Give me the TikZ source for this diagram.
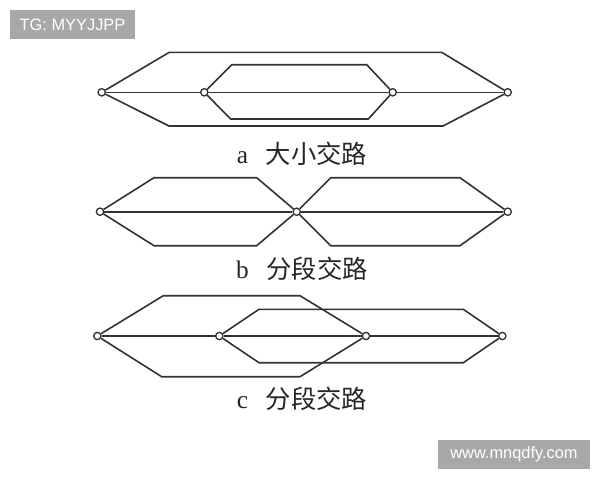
\documentclass[tikz,border=0pt]{standalone}
\usepackage{fontspec}
\setmainfont{Liberation Serif}
\newfontfamily\cjk{Noto Sans CJK SC}
\newfontfamily\wmfont{Liberation Sans}
\begin{document}
\begin{tikzpicture}[x=0.75pt,y=-0.75pt,
  ln/.style={draw=black!80,line width=1.2pt,line join=miter},
  stn/.style={circle,draw=black!80,fill=white,line width=1pt,inner sep=0pt,minimum size=5.5pt},
  lbl/.style={anchor=base,inner sep=0pt,text=black!85,font=\fontsize{19}{22}\selectfont},
  wm/.style={fill=black!34,text=white,inner sep=0pt,font=\wmfont\fontsize{12.3}{14}\selectfont}]
\useasboundingbox (0,0) rectangle (600,480);
\fill[white] (0,0) rectangle (600,480);
% watermarks
\node[wm,minimum width=125*0.75pt,minimum height=29*0.75pt] (wm1) at (72.5,24.5) {TG: MYYJJPP};
\node[wm,minimum width=152*0.75pt,minimum height=29*0.75pt] (wm2) at (514,454.5) {www.mnqdfy.com};
% ---- a
\coordinate (ao1) at (169.3,52.3); \coordinate (ao2) at (441.7,52.3);
\coordinate (ao3) at (169,126); \coordinate (ao4) at (443,126);
\coordinate (ai1) at (231.7,64.7); \coordinate (ai2) at (366.7,64.7);
\coordinate (ai3) at (230.7,119); \coordinate (ai4) at (368.3,119);
\node[stn] (a1) at (101.7,92.3) {};
\node[stn] (a2) at (204.3,92.3) {};
\node[stn] (a3) at (392.7,92.3) {};
\node[stn] (a4) at (507.7,92.3) {};
\draw[ln] (a1) -- (ao1) -- (ao2) -- (a4);
\draw[ln] (a1) -- (ao3) -- (ao4) -- (a4);
\draw[ln] (a2) -- (ai1) -- (ai2) -- (a3);
\draw[ln] (a2) -- (ai3) -- (ai4) -- (a3);
\draw[ln] (a1) -- (a2) -- (a3) -- (a4);
\node[lbl] (la) at (302,163.5) {a\hspace{0.7em}{\cjk 大小交路}};
% ---- b
\coordinate (bl1) at (154,177.7); \coordinate (bl2) at (256.7,177.7);
\coordinate (bl3) at (154,245.7); \coordinate (bl4) at (256.7,245.7);
\coordinate (br1) at (330.7,177.7); \coordinate (br2) at (460,177.7);
\coordinate (br3) at (330.7,245.7); \coordinate (br4) at (460,245.7);
\node[stn] (b1) at (100,211.7) {};
\node[stn] (b2) at (296.7,211.7) {};
\node[stn] (b3) at (507.7,211.7) {};
\draw[ln] (b1) -- (bl1) -- (bl2) -- (b2);
\draw[ln] (b1) -- (bl3) -- (bl4) -- (b2);
\draw[ln] (b2) -- (br1) -- (br2) -- (b3);
\draw[ln] (b2) -- (br3) -- (br4) -- (b3);
\draw[ln] (b1) -- (b2) -- (b3);
\node[lbl] (lb) at (302,278.3) {b\hspace{0.7em}{\cjk 分段交路}};
% ---- c
\coordinate (cl1) at (163.3,295.7); \coordinate (cl2) at (300,295.7);
\coordinate (cl3) at (161.7,376.7); \coordinate (cl4) at (300,376.7);
\coordinate (cr1) at (259,309.3); \coordinate (cr2) at (463.3,309.3);
\coordinate (cr3) at (259,362.7); \coordinate (cr4) at (463.3,362.7);
\node[stn] (c1) at (97.3,336) {};
\node[stn] (c2) at (219.3,336) {};
\node[stn] (c3) at (366,336) {};
\node[stn] (c4) at (502.3,336) {};
\draw[ln] (c1) -- (cl1) -- (cl2) -- (c3);
\draw[ln] (c1) -- (cl3) -- (cl4) -- (c3);
\draw[ln] (c2) -- (cr1) -- (cr2) -- (c4);
\draw[ln] (c2) -- (cr3) -- (cr4) -- (c4);
\draw[ln] (c1) -- (c2) -- (c3) -- (c4);
\node[lbl] (lc) at (302,408.3) {c\hspace{0.7em}{\cjk 分段交路}};
\end{tikzpicture}
\end{document}
